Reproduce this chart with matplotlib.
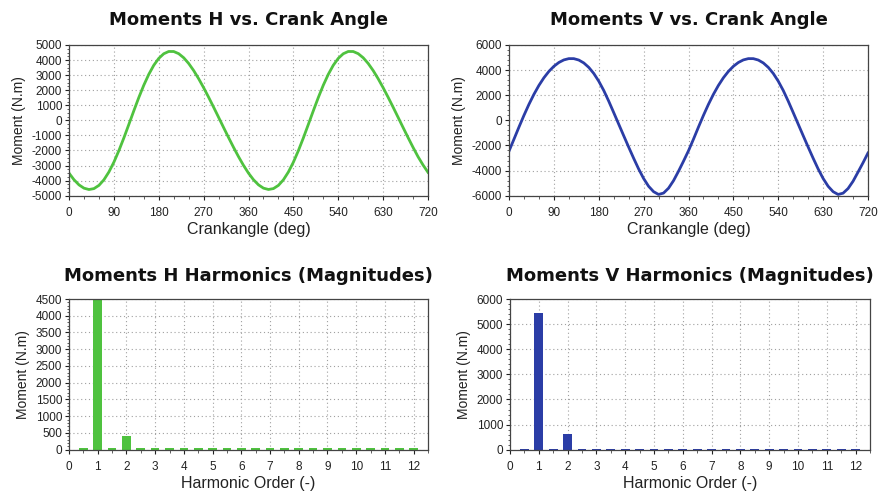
import matplotlib
matplotlib.use("Agg")
import matplotlib.pyplot as plt
from matplotlib.ticker import MultipleLocator, AutoMinorLocator

# ---- data ----
crank_deg = list(range(0, 721, 10))

moment_h = [
    -3500, -3940, -4280, -4500, -4590, -4530, -4315, -3946, -3428, -2777,
    -2013, -1168, -272, 634, 1514, 2331, 3052, 3653, 4112, 4419,
    4570, 4568, 4425, 4155, 3776, 3306, 2764, 2168, 1534, 876,
    203, -473, -1141, -1792, -2412, -2988,
    -3504, -3940, -4278, -4499, -4587, -4528, -4315, -3946, -3428, -2777,
    -2013, -1168, -272, 634, 1514, 2331, 3052, 3653, 4112, 4419,
    4570, 4568, 4425, 4155, 3776, 3306, 2764, 2168, 1534, 876,
    203, -473, -1141, -1792, -2412, -2960, -3450,
]

moment_v = [
    -2450, -1496, -534, 399, 1276, 2075, 2782, 3391, 3898, 4303,
    4608, 4812, 4915, 4914, 4802, 4572, 4218, 3735, 3120, 2382,
    1531, 620, -300, -1220, -2130, -3020, -3870, -4630, -5250, -5680,
    -5900, -5790, -5400, -4800, -4050, -3250,
    -2420, -1496, -534, 399, 1276, 2075, 2782, 3391, 3898, 4303,
    4608, 4812, 4915, 4914, 4802, 4572, 4218, 3735, 3120, 2382,
    1531, 620, -300, -1220, -2130, -3020, -3870, -4630, -5250, -5680,
    -5900, -5800, -5430, -4850, -4120, -3380, -2600,
]

harm_order = [0.5, 1.0, 1.5, 2.0, 2.5, 3.0, 3.5, 4.0, 4.5, 5.0, 5.5, 6.0,
              6.5, 7.0, 7.5, 8.0, 8.5, 9.0, 9.5, 10.0, 10.5, 11.0, 11.5, 12.0]
harm_h = [40, 4500, 40, 400, 40, 40, 40, 40, 40, 40, 40, 40,
          40, 40, 40, 40, 40, 40, 40, 40, 40, 40, 40, 40]
harm_v = [40, 5450, 40, 610, 40, 40, 40, 40, 40, 40, 40, 40,
          40, 40, 40, 40, 40, 40, 40, 40, 40, 40, 40, 40]

titles = ["Moments H vs. Crank Angle", "Moments V vs. Crank Angle",
          "Moments H Harmonics (Magnitudes)", "Moments V Harmonics (Magnitudes)"]

GREEN = "#4fc23f"
BLUE = "#2b3da6"

plt.rcParams['font.family'] = ['Liberation Sans', 'DejaVu Sans']
plt.rcParams['axes.unicode_minus'] = False

fig = plt.figure(figsize=(8.82, 4.94), dpi=100)
fig.patch.set_facecolor("white")

W, H = 882.0, 494.0
def rect(x0, x1, ytop, ybot):
    return [x0 / W, 1 - ybot / H, (x1 - x0) / W, (ybot - ytop) / H]

ax_tl = fig.add_axes(rect(69, 428, 45, 195.7))
ax_tr = fig.add_axes(rect(509, 868, 45, 195.7))
ax_bl = fig.add_axes(rect(69, 428, 299, 449.7))
ax_br = fig.add_axes(rect(510, 870, 299, 449.7))

def style(ax):
    for s in ax.spines.values():
        s.set_color("#444444")
        s.set_linewidth(0.9)
    ax.tick_params(which='major', direction='out', length=3, width=0.8,
                   labelsize=8.5, colors="#222222")
    ax.tick_params(axis='x', which='major', pad=5)
    ax.tick_params(axis='y', which='major', pad=2)
    ax.tick_params(which='minor', direction='out', length=1.8, width=0.6,
                   colors="#444444")
    ax.grid(True, which='major', linestyle=(0, (1, 2.5)), color="#a0a0a0",
            linewidth=0.8)
    ax.set_axisbelow(True)
    ax.set_ylabel("Moment (N.m)", fontsize=10, labelpad=4, color="#222222")

# top-left
ax_tl.plot(crank_deg, moment_h, color=GREEN, linewidth=2.0)
ax_tl.set_xlim(0, 720)
ax_tl.set_ylim(-5000, 5000)
ax_tl.xaxis.set_major_locator(MultipleLocator(90))
ax_tl.xaxis.set_minor_locator(MultipleLocator(30))
ax_tl.yaxis.set_major_locator(MultipleLocator(1000))
ax_tl.yaxis.set_minor_locator(AutoMinorLocator(4))
style(ax_tl)
ax_tl.set_xlabel("Crankangle (deg)", fontsize=11.5, labelpad=2.5, color="#222222")

# top-right
ax_tr.plot(crank_deg, moment_v, color=BLUE, linewidth=2.0)
ax_tr.set_xlim(0, 720)
ax_tr.set_ylim(-6000, 6000)
ax_tr.xaxis.set_major_locator(MultipleLocator(90))
ax_tr.xaxis.set_minor_locator(MultipleLocator(30))
ax_tr.yaxis.set_major_locator(MultipleLocator(2000))
ax_tr.yaxis.set_minor_locator(AutoMinorLocator(5))
style(ax_tr)
ax_tr.set_xlabel("Crankangle (deg)", fontsize=11.5, labelpad=2.5, color="#222222")

# bottom-left
ax_bl.bar(harm_order, harm_h, width=0.3, color=GREEN)
ax_bl.set_xlim(0, 12.5)
ax_bl.set_ylim(0, 4500)
ax_bl.xaxis.set_major_locator(MultipleLocator(1))
ax_bl.xaxis.set_minor_locator(MultipleLocator(0.5))
ax_bl.yaxis.set_major_locator(MultipleLocator(500))
ax_bl.yaxis.set_minor_locator(AutoMinorLocator(5))
style(ax_bl)
ax_bl.set_xlabel("Harmonic Order (-)", fontsize=11.5, labelpad=2, color="#222222")

# bottom-right
ax_br.bar(harm_order, harm_v, width=0.3, color=BLUE)
ax_br.set_xlim(0, 12.5)
ax_br.set_ylim(0, 6000)
ax_br.xaxis.set_major_locator(MultipleLocator(1))
ax_br.xaxis.set_minor_locator(MultipleLocator(0.5))
ax_br.yaxis.set_major_locator(MultipleLocator(1000))
ax_br.yaxis.set_minor_locator(AutoMinorLocator(5))
style(ax_br)
ax_br.set_xlabel("Harmonic Order (-)", fontsize=11.5, labelpad=2, color="#222222")

for ax, t, p in zip([ax_tl, ax_tr, ax_bl, ax_br], titles, [14.5, 14.5, 13, 13]):
    ax.set_title(t, fontsize=13, fontweight='bold', pad=p, color="#111111",
                 family=['DejaVu Sans'])

fig.savefig("out.png", dpi=100, facecolor="white")
